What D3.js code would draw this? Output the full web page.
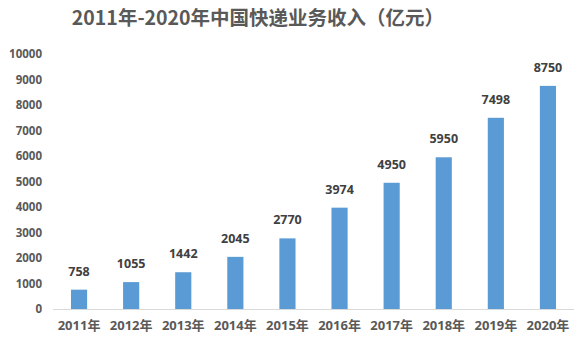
<!DOCTYPE html>
<html><head><meta charset="utf-8">
<script src="https://cdn.jsdelivr.net/npm/d3@7"></script>
<style>body{margin:0;background:#fff}svg{display:block}</style>
</head><body>
<script>
const years = ["2011年","2012年","2013年","2014年","2015年","2016年","2017年","2018年","2019年","2020年"];
const revenue = [758,1055,1442,2045,2770,3974,4950,5950,7498,8750];
const yTicks = [0,1000,2000,3000,4000,5000,6000,7000,8000,9000,10000];
const title = "2011年-2020年中国快递业务收入（亿元）";

const W=583,H=342;
const font = "'Open Sans','Noto Sans CJK SC',sans-serif";
const svg = d3.select("body").append("svg").attr("width",W).attr("height",H);
const x = d3.scaleBand().domain(years).range([53,574]).paddingInner(0.69).paddingOuter(0.345);
const y = d3.scaleLinear().domain([0,10000]).range([309,54]);

svg.append("text").attr("x",258).attr("y",25).attr("text-anchor","middle")
  .attr("font-family","'Noto Sans CJK SC',sans-serif").attr("font-weight","bold").attr("font-size",19.5)
  .attr("fill","#595959").text(title);

const ya = svg.append("g").attr("transform","translate(53,0)")
  .call(d3.axisLeft(y).tickValues(yTicks).tickSize(0).tickPadding(11).tickFormat(d3.format("d")));
ya.select(".domain").remove();
ya.selectAll("text").attr("font-family",font).attr("font-weight","bold").attr("font-size",11.5).attr("fill","#595959");

const xa = svg.append("g").attr("transform","translate(0,309)")
  .call(d3.axisBottom(x).tickSize(0).tickPadding(12));
xa.select(".domain").attr("stroke","#d9d9d9").attr("d","M53,0.5H574");
xa.selectAll("text").attr("font-family",font).attr("font-weight","bold").attr("font-size",13).attr("fill","#595959");

svg.selectAll("rect.bar").data(revenue).join("rect").attr("class","bar")
  .attr("x",(d,i)=>x(years[i])).attr("width",x.bandwidth())
  .attr("y",d=>y(d)).attr("height",d=>y(0)-y(d)).attr("fill","#5b9bd5");

svg.selectAll("text.val").data(revenue).join("text").attr("class","val")
  .attr("x",(d,i)=>x(years[i])+x.bandwidth()/2).attr("y",d=>y(d)-14)
  .attr("text-anchor","middle").attr("font-family",font).attr("font-weight","bold").attr("font-size",12.5)
  .attr("fill","#404040").text(d=>d);
</script>
</body></html>
